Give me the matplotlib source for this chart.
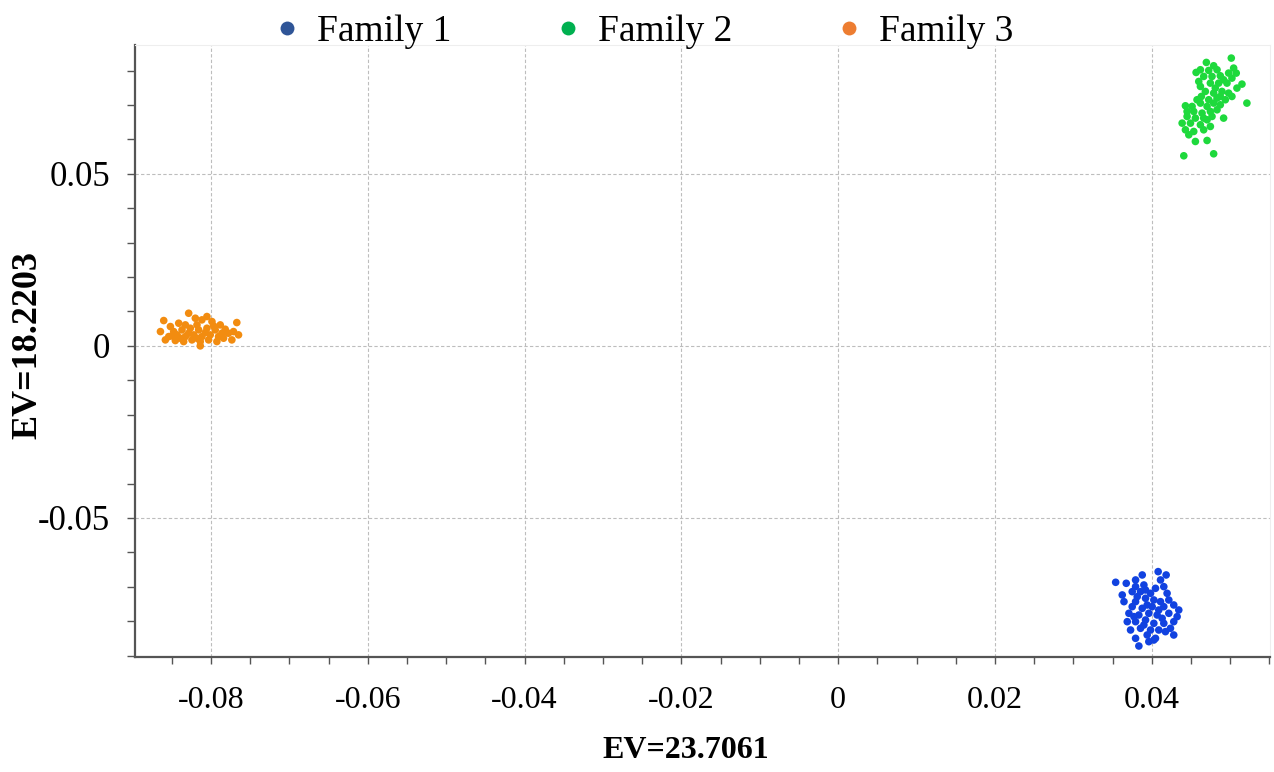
import matplotlib
matplotlib.use("Agg")
import matplotlib.pyplot as plt
from matplotlib.lines import Line2D
from matplotlib.ticker import MultipleLocator, FuncFormatter

# PCA-style coordinates
fam1_x = [0.03539, 0.03674, 0.03793, 0.03878, 0.04081, 0.04183, 0.03793, 0.03899, 0.04111, 0.04153,
          0.03750, 0.03856, 0.03984, 0.04195, 0.03645, 0.03793, 0.03920, 0.04026, 0.04111, 0.03750,
          0.03878, 0.04005, 0.04153, 0.04280, 0.04344, 0.03708, 0.03835, 0.03962, 0.04068, 0.04217,
          0.03687, 0.03793, 0.03920, 0.04026, 0.04153, 0.04280, 0.03729, 0.03856, 0.03984, 0.04089,
          0.04238, 0.03941, 0.04047, 0.04280, 0.03793, 0.03962, 0.03835, 0.04026, 0.03920, 0.04047,
          0.03814, 0.04217, 0.03941, 0.04089, 0.03772, 0.03899, 0.04132, 0.04323, 0.03623, 0.04174]
fam1_y = [-0.06870, -0.06899, -0.06802, -0.06657, -0.06560, -0.06657, -0.06996, -0.06948, -0.06802, -0.06996,
          -0.07142, -0.07142, -0.07190, -0.07190, -0.07432, -0.07432, -0.07335, -0.07384, -0.07432, -0.07578,
          -0.07626, -0.07578, -0.07578, -0.07529, -0.07675, -0.07771, -0.07820, -0.07771, -0.07820, -0.07771,
          -0.08014, -0.08014, -0.07965, -0.08062, -0.08062, -0.08014, -0.08256, -0.08207, -0.08256, -0.08256,
          -0.08207, -0.08401, -0.08498, -0.08401, -0.08498, -0.08595, -0.08721, -0.08547, -0.07093, -0.07045,
          -0.07287, -0.07384, -0.07529, -0.07675, -0.07868, -0.08110, -0.07917, -0.07868, -0.07238, -0.08304]

fam2_x = [0.05014, 0.04696, 0.04789, 0.04565, 0.04726, 0.04832, 0.05044, 0.05077, 0.04662, 0.04768,
          0.04874, 0.05022, 0.05150, 0.04620, 0.04747, 0.04853, 0.04959, 0.04632, 0.04789, 0.04895,
          0.04980, 0.04726, 0.04832, 0.04938, 0.05022, 0.05213, 0.04429, 0.04620, 0.04705, 0.04789,
          0.04874, 0.04535, 0.04641, 0.04747, 0.04832, 0.04916, 0.04450, 0.04556, 0.04705, 0.04387,
          0.04493, 0.04620, 0.04747, 0.04429, 0.04535, 0.04662, 0.04472, 0.04556, 0.04705, 0.04408,
          0.04789, 0.04683, 0.04577, 0.04916, 0.04599, 0.04810, 0.04514, 0.04768, 0.05086, 0.04620,
          0.04450, 0.04662, 0.04874, 0.04980]
fam2_y = [0.08363, 0.08237, 0.08140, 0.07946, 0.08004, 0.08024, 0.08072, 0.07927, 0.07830, 0.07830,
          0.07849, 0.07781, 0.07607, 0.07539, 0.07636, 0.07636, 0.07636, 0.07248, 0.07345, 0.07394,
          0.07345, 0.07152, 0.07200, 0.07152, 0.07248, 0.07055, 0.06977, 0.07055, 0.06958, 0.07055,
          0.07006, 0.06812, 0.06764, 0.06812, 0.06861, 0.06619, 0.06667, 0.06619, 0.06570, 0.06473,
          0.06473, 0.06425, 0.06376, 0.06279, 0.06231, 0.06279, 0.06134, 0.05940, 0.05969, 0.05524,
          0.05582, 0.07394, 0.07152, 0.07733, 0.07684, 0.07491, 0.06958, 0.06667, 0.07491, 0.08024,
          0.06812, 0.06619, 0.07248, 0.07927]

fam3_x = [-0.08604, -0.08286, -0.08053, -0.08519, -0.08413, -0.08201, -0.08117, -0.07989, -0.07883, -0.07672,
          -0.08646, -0.08477, -0.08371, -0.08265, -0.08159, -0.08053, -0.07947, -0.07820, -0.07714, -0.08540,
          -0.08434, -0.08328, -0.08222, -0.08117, -0.08011, -0.07905, -0.07778, -0.07650, -0.08583, -0.08456,
          -0.08350, -0.08244, -0.08138, -0.08032, -0.07926, -0.07735, -0.08138, -0.08328, -0.07862, -0.08180,
          -0.07968, -0.08286, -0.08074, -0.08498, -0.07841, -0.08392, -0.08180]
fam3_y = [0.00736, 0.00949, 0.00853, 0.00562, 0.00659, 0.00804, 0.00756, 0.00707, 0.00610, 0.00678,
          0.00416, 0.00416, 0.00465, 0.00513, 0.00465, 0.00513, 0.00465, 0.00484, 0.00416, 0.00271,
          0.00320, 0.00271, 0.00320, 0.00271, 0.00320, 0.00271, 0.00368, 0.00320, 0.00174, 0.00155,
          0.00126, 0.00174, 0.00126, 0.00174, 0.00126, 0.00174, 0.00000, 0.00610, 0.00368, 0.00610,
          0.00581, 0.00368, 0.00387, 0.00290, 0.00223, 0.00223, 0.00223]

labels = ["Family 1", "Family 2", "Family 3"]
point_colors = ["#1142E0", "#1ED93C", "#F28C10"]
legend_colors = ["#2F5597", "#00B050", "#ED7D31"]

plt.rcParams['font.family'] = ['Liberation Serif', 'DejaVu Serif']

fig = plt.figure(figsize=(12.74, 7.72), dpi=100)
ax = fig.add_axes([0.106, 0.149, 0.891, 0.793])

series = [(fam1_x, fam1_y), (fam2_x, fam2_y), (fam3_x, fam3_y)]
for (xs, ys), c in zip(series, point_colors):
    ax.scatter(xs, ys, s=30, color=c, edgecolors='none', zorder=3)

ax.set_xlim(-0.0897, 0.0551)
ax.set_ylim(-0.0904, 0.0875)

ax.xaxis.set_major_locator(MultipleLocator(0.02))
ax.xaxis.set_minor_locator(MultipleLocator(0.005))
ax.yaxis.set_major_locator(MultipleLocator(0.05))
ax.yaxis.set_minor_locator(MultipleLocator(0.01))


def fmt(v, pos):
    if abs(v) < 1e-9:
        return "0"
    return "%.2f" % v


ax.xaxis.set_major_formatter(FuncFormatter(fmt))
ax.yaxis.set_major_formatter(FuncFormatter(fmt))

ax.grid(True, which='major', color='#BDBDBD', linestyle=(0, (3, 2)), linewidth=0.8)
ax.set_axisbelow(True)

for side in ['left', 'bottom']:
    ax.spines[side].set_color('#555555')
    ax.spines[side].set_linewidth(1.6)
for side in ['top', 'right']:
    ax.spines[side].set_color('#EEEEEE')
    ax.spines[side].set_linewidth(0.8)

ax.tick_params(axis='x', which='both', direction='out', length=5, width=1, color='#555555',
               labelsize=23, pad=16)
ax.tick_params(axis='y', which='both', direction='out', length=6, width=1, color='#555555',
               labelsize=25, pad=12)

ax.set_xlabel("EV=23.7061", fontsize=23, fontweight='bold')
ax.set_ylabel("EV=18.2203", fontsize=26, fontweight='bold')
ax.xaxis.set_label_coords(0.485, -0.152)
ax.yaxis.set_label_coords(-0.094, 0.51)
ax.xaxis.label.set_va('center')
ax.yaxis.label.set_va('center')

handles = [Line2D([], [], marker='o', linestyle='none', markersize=10,
                  markerfacecolor=c, markeredgecolor='none') for c in legend_colors]
fig.legend(handles, labels, loc='upper center', bbox_to_anchor=(0.503, 1.025), ncol=3,
           frameon=False, fontsize=27, handletextpad=0.3, columnspacing=2.6,
           handlelength=1.0)

fig.savefig("out.png", dpi=100)
